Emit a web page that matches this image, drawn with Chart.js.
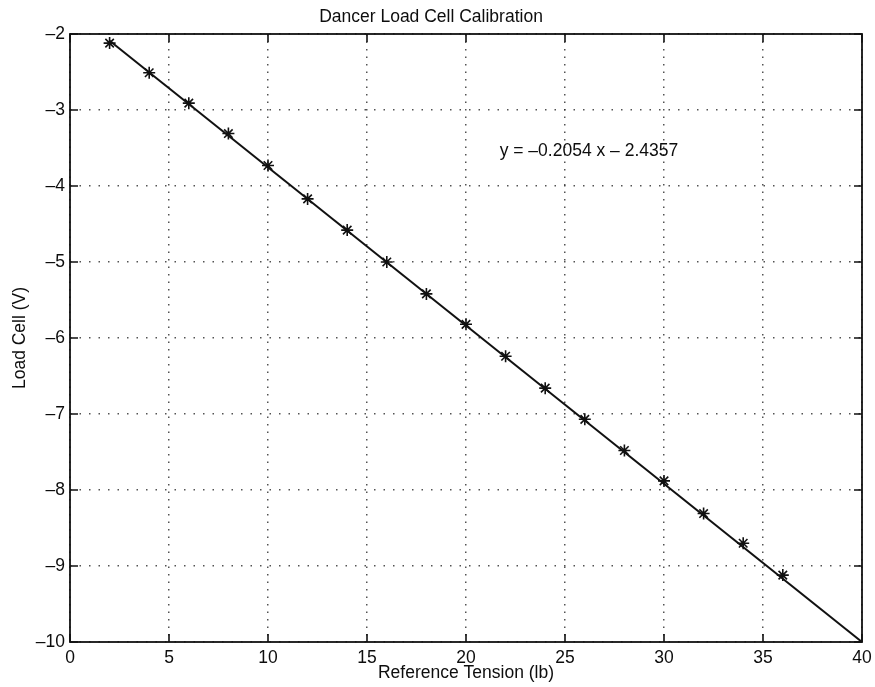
<!DOCTYPE html>
<html>
<head>
<meta charset="utf-8">
<title>Dancer Load Cell Calibration</title>
<script src="https://cdn.jsdelivr.net/npm/chart.js"></script>
<style>
  html, body { margin: 0; padding: 0; background: #fff; }
  #wrap { width: 875px; height: 687px; }
</style>
</head>
<body>
<div id="wrap"><canvas id="cal" width="875" height="687"></canvas></div>
<script>
// measured points: tension in lb, load cell output in volts
const tension = [2, 4, 6, 8, 10, 12, 14, 16, 18, 20, 22, 24, 26, 28, 30, 32, 34, 36];
const loadCell = [-2.12, -2.51, -2.91, -3.31, -3.73, -4.17, -4.58, -5.00, -5.42,
                  -5.82, -6.24, -6.66, -7.07, -7.48, -7.88, -8.31, -8.70, -9.12];

// fitted line, drawn from its two ends
const fitX = [2, 40];
const fitY = [-2.09, -10];

const fitLabel = 'y = \u20130.2054 x \u2013 2.4357';
const labelAt = { x: 21.7, y: -3.54 };

const FONT = "'Liberation Sans', Arial, Helvetica, sans-serif";
const INK = '#0d0d0d';

const dash = v => (v < 0 ? '\u2013' + (-v) : String(v));

// box round the plot, inward tick marks and the equation text
const frame = {
  id: 'frame',
  afterDatasetsDraw(chart) {
    const { ctx, chartArea: a, scales: { x, y } } = chart;
    const len = 8;
    ctx.save();
    ctx.strokeStyle = '#111';
    ctx.lineWidth = 1.8;
    ctx.strokeRect(a.left, a.top, a.right - a.left, a.bottom - a.top);
    ctx.lineWidth = 1.6;
    ctx.beginPath();
    x.ticks.forEach(t => {
      const px = x.getPixelForValue(t.value);
      ctx.moveTo(px, a.bottom); ctx.lineTo(px, a.bottom - len);
      ctx.moveTo(px, a.top); ctx.lineTo(px, a.top + len);
    });
    y.ticks.forEach(t => {
      const py = y.getPixelForValue(t.value);
      ctx.moveTo(a.left, py); ctx.lineTo(a.left + len, py);
      ctx.moveTo(a.right, py); ctx.lineTo(a.right - len, py);
    });
    ctx.stroke();

    ctx.fillStyle = INK;
    ctx.font = '17.5px ' + FONT;
    ctx.textAlign = 'left';
    ctx.textBaseline = 'middle';
    ctx.fillText(fitLabel, x.getPixelForValue(labelAt.x), y.getPixelForValue(labelAt.y));
    ctx.restore();
  }
};

const gridStyle = {
  color: 'rgba(40,40,40,0.8)',
  lineWidth: 1.5,
  drawTicks: false,
  drawOnChartArea: true
};

new Chart(document.getElementById('cal'), {
  type: 'scatter',
  data: {
    datasets: [
      {
        label: 'fit',
        data: fitX.map((v, i) => ({ x: v, y: fitY[i] })),
        showLine: true,
        borderColor: '#111',
        borderWidth: 2,
        pointRadius: 0,
        fill: false
      },
      {
        label: 'measured',
        data: tension.map((v, i) => ({ x: v, y: loadCell[i] })),
        pointStyle: 'star',
        pointRadius: 6,
        borderColor: '#111',
        borderWidth: 1.6,
        backgroundColor: '#111'
      }
    ]
  },
  options: {
    responsive: false,
    animation: false,
    layout: { padding: { left: 0, right: 13, top: 0, bottom: 0 } },
    plugins: {
      legend: { display: false },
      tooltip: { enabled: false },
      title: {
        display: true,
        text: 'Dancer Load Cell Calibration',
        color: INK,
        font: { family: FONT, size: 17.5, weight: 'normal', lineHeight: 1.2 },
        padding: { top: 6.5, bottom: 6.5 }
      }
    },
    scales: {
      x: {
        type: 'linear',
        min: 0,
        max: 40,
        ticks: {
          stepSize: 5,
          padding: 6,
          maxRotation: 0,
          color: INK,
          font: { family: FONT, size: 17.5 }
        },
        grid: { ...gridStyle },
        border: { display: false, dash: [1.5, 6] },
        title: {
          display: true,
          text: 'Reference Tension (lb)',
          color: INK,
          font: { family: FONT, size: 17.5, lineHeight: 1.2 },
          padding: { top: 0, bottom: 3 }
        },
        afterFit(scale) {
          scale.height = 45;
          scale.paddingRight = 0;
        }
      },
      y: {
        type: 'linear',
        min: -10,
        max: -2,
        ticks: {
          stepSize: 1,
          padding: 5,
          color: INK,
          font: { family: FONT, size: 17.5 },
          callback: dash
        },
        grid: { ...gridStyle },
        border: { display: false, dash: [1.5, 8] },
        title: {
          display: true,
          text: 'Load Cell (V)',
          color: INK,
          font: { family: FONT, size: 17.5, lineHeight: 1.2 },
          padding: { top: 10, bottom: 0 }
        },
        afterFit(scale) { scale.width = 70; }
      }
    }
  },
  plugins: [frame]
});
</script>
</body>
</html>
